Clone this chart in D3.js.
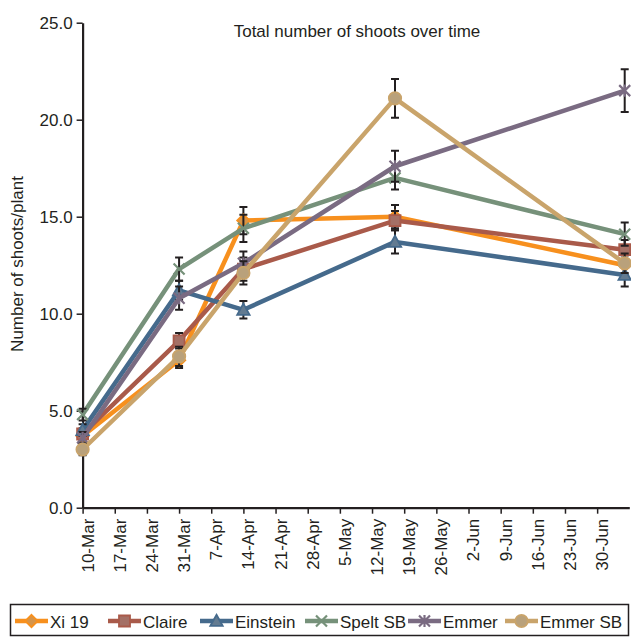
<!DOCTYPE html>
<html><head><meta charset="utf-8">
<script src="https://cdn.jsdelivr.net/npm/d3@7"></script>
<style>
body{margin:0;background:#fff}
svg{display:block}
text{font-family:"Liberation Sans",Arial,Helvetica,sans-serif;fill:#231f20}
</style>
</head><body><svg id="c" width="631" height="637"></svg>
<script>
// ---- data ----
const sampleDates = ["10-Mar","31-Mar","14-Apr","17-May","6-Jul"];
const seriesNames = ["Xi 19","Claire","Einstein","Spelt SB","Emmer","Emmer SB"];
const xi19     = [3.7, 7.6, 14.8, 15.0, 12.5];
const claire   = [3.8, 8.6, 12.3, 14.8, 13.3];
const einstein = [4.0, 11.2, 10.2, 13.7, 12.0];
const speltSB  = [4.8, 12.3, 14.4, 17.0, 14.1];
const emmer    = [3.6, 10.8, 12.6, 17.6, 21.5];
const emmerSB  = [3.0, 7.8, 12.1, 21.1, 12.6];
const xi19Err     = [0.3, 0.4, 0.7, 0.6, 0.5];
const claireErr   = [0.3, 0.4, 0.6, 0.5, 0.5];
const einsteinErr = [0.3, 0.5, 0.45, 0.6, 0.6];
const speltSBErr  = [0.3, 0.6, 0.7, 0.6, 0.6];
const emmerErr    = [0.3, 0.6, 0.6, 0.8, 1.1];
const emmerSBErr  = [0.3, 0.5, 0.6, 1.0, 0.5];
const xTickLabels = ["10-Mar","17-Mar","24-Mar","31-Mar","7-Apr","14-Apr","21-Apr","28-Apr","5-May","12-May","19-May","26-May","2-Jun","9-Jun","16-Jun","23-Jun","30-Jun"];
const xDomainLabels = ["10-Mar","7-Jul"];
const yTicks = [0, 5, 10, 15, 20, 25];

// ---- styles ----
const colors = ["#f7901e","#a95a4a","#456a8c","#76917a","#7a6b82","#c9a46b"];
const markers = ["diamond","square","triangle","x","star","circle"];
const values = [xi19, claire, einstein, speltSB, emmer, emmerSB];
const errors = [xi19Err, claireErr, einsteinErr, speltSBErr, emmerErr, emmerSBErr];

const parse = s => d3.utcParse("%d-%b-%Y")(s + "-2013");
const svg = d3.select("#c");

const x = d3.scaleUtc().domain(xDomainLabels.map(parse)).range([82.6, 629.3]);
const y = d3.scaleLinear().domain([0, 25]).range([507.7, 22.7]);

function markerPath(type, r) {
  switch (type) {
    case "diamond": return `M0,${-r}L${r},0L0,${r}L${-r},0Z`;
    case "square": return `M${-r+0.5},${-r+0.5}h${2*r-1}v${2*r-1}h${-2*r+1}Z`;
    case "triangle": return `M0,${-r}L${r},${r*0.8}L${-r},${r*0.8}Z`;
    case "circle": return d3.arc()({innerRadius:0,outerRadius:r,startAngle:0,endAngle:2*Math.PI});
    case "x": return `M${-r},${-r}L${r},${r}M${-r},${r}L${r},${-r}`;
    case "star": return `M${-r},${-r}L${r},${r}M${-r},${r}L${r},${-r}M0,${-r*1.1}L0,${r*1.1}`;
  }
}
function drawMarker(g, type, color, cx, cy) {
  const fill = d3.interpolateRgb(color, "#9a9a9a")(0.35);
  const p = g.append("path").attr("transform", `translate(${cx},${cy})`);
  if (type === "x" || type === "star") {
    p.attr("d", markerPath(type, 5.5)).attr("fill", "none").attr("stroke", color).attr("stroke-width", 2.2);
  } else {
    const r = type === "square" ? 6 : 6.2;
    p.attr("d", markerPath(type, r)).attr("fill", fill).attr("stroke", color).attr("stroke-width", 1.8);
  }
}

// ---- axes ----
const yAxis = svg.append("g").attr("transform", "translate(82.6,0)")
  .call(d3.axisLeft(y).tickValues(yTicks).tickFormat(d3.format(".1f")).tickSizeInner(6).tickSizeOuter(0).tickPadding(4));
yAxis.selectAll("text").style("font-size", "17px").style("font-family", '"Liberation Sans",Arial,sans-serif').attr("fill", "#231f20");
yAxis.select(".domain").attr("stroke", "#231f20").attr("stroke-width", 2.2);
yAxis.selectAll(".tick line").attr("stroke", "#231f20").attr("stroke-width", 1.5);

const xAxis = svg.append("g").attr("transform", "translate(0,507.7)")
  .call(d3.axisBottom(x).tickValues(xTickLabels.map(parse)).tickFormat(d3.utcFormat("%-d-%b")).tickSizeInner(6).tickSizeOuter(0));
xAxis.select(".domain").attr("stroke", "#231f20").attr("stroke-width", 2.2);
xAxis.selectAll(".tick line").attr("stroke", "#231f20").attr("stroke-width", 1.5);
xAxis.selectAll("text")
  .style("font-size", "17px").style("font-family", '"Liberation Sans",Arial,sans-serif').attr("fill", "#231f20")
  .attr("text-anchor", "end").attr("transform", "rotate(-90)")
  .attr("x", -11).attr("y", 4.5).attr("dy", "0.35em");

// ---- titles ----
svg.append("text").attr("x", 357).attr("y", 37).attr("text-anchor", "middle")
  .style("font-size", "17px").text("Total number of shoots over time");
svg.append("text").attr("transform", "translate(23,264) rotate(-90)").attr("text-anchor", "middle")
  .style("font-size", "17px").text("Number of shoots/plant");

// ---- series ----
const line = d3.line().x(d => x(d.date)).y(d => y(d.v));
values.forEach((vals, i) => {
  const pts = vals.map((v, j) => ({date: parse(sampleDates[j]), v, e: errors[i][j]}));
  const g = svg.append("g");
  g.append("path").datum(pts).attr("d", line).attr("fill", "none")
    .attr("stroke", colors[i]).attr("stroke-width", 4.5).attr("stroke-linejoin", "round");
  pts.forEach(p => {
    const cx = x(p.date), y0 = y(p.v - p.e), y1 = y(p.v + p.e);
    g.append("path").attr("d", `M${cx},${y0}V${y1}M${cx-4},${y0}H${cx+4}M${cx-4},${y1}H${cx+4}`)
      .attr("stroke", "#231f20").attr("stroke-width", 2).attr("fill", "none");
  });
  pts.forEach(p => drawMarker(g, markers[i], colors[i], x(p.date), y(p.v)));
});

// ---- legend ----
const legendLineX = [15, 108, 200, 305, 408, 505];
const lg = svg.append("g");
lg.append("rect").attr("x", 10.5).attr("y", 604.5).attr("width", 618).attr("height", 31)
  .attr("fill", "none").attr("stroke", "#231f20").attr("stroke-width", 1.5);
seriesNames.forEach((name, i) => {
  const lx = legendLineX[i], ly = 621;
  lg.append("line").attr("x1", lx).attr("x2", lx + 33).attr("y1", ly).attr("y2", ly)
    .attr("stroke", colors[i]).attr("stroke-width", 4.5);
  drawMarker(lg, markers[i], colors[i], lx + 16.5, ly);
  lg.append("text").attr("x", lx + 35).attr("y", ly + 6.5).style("font-size", "17px").text(name);
});
</script>
</body></html>
